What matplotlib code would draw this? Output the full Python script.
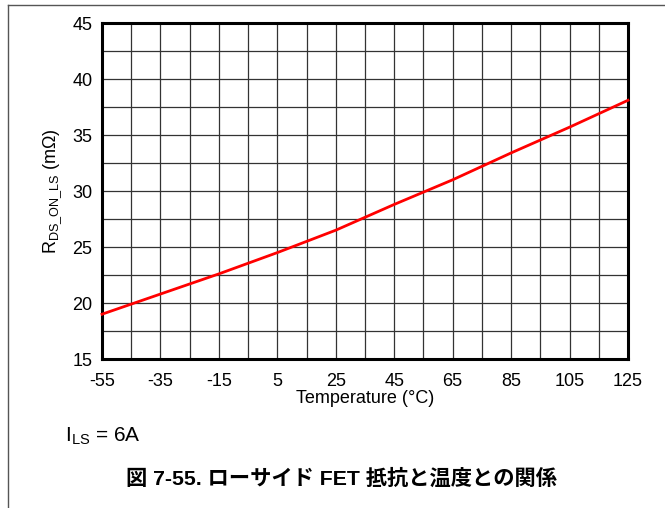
import matplotlib
matplotlib.use("Agg")
import matplotlib.pyplot as plt
from matplotlib.lines import Line2D
import numpy as np

temperature = [-55, -35, -15, 5, 25, 45, 65, 85, 105, 125]
rds_on_ls = [19.0, 20.8, 22.6, 24.5, 26.5, 28.8, 31.0, 33.4, 35.7, 38.1]
x_ticks = [-55, -35, -15, 5, 25, 45, 65, 85, 105, 125]
y_ticks = [15, 20, 25, 30, 35, 40, 45]

plt.rcParams['font.family'] = ['Liberation Sans', 'DejaVu Sans']
plt.rcParams['axes.unicode_minus'] = False

fig = plt.figure(figsize=(6.65, 5.08), dpi=100)
ax = fig.add_axes([102/665, 1-359/508, (628-102)/665, (359-23)/508])

ax.plot(temperature, rds_on_ls, color='#ff0000', lw=2.0, zorder=3, clip_on=False)
ax.set_xlim(-55, 125)
ax.set_ylim(15, 45)
ax.set_xticks(x_ticks)
ax.set_yticks(y_ticks)
ax.set_xticks(np.arange(-45, 125, 20), minor=True)
ax.set_yticks(np.arange(17.5, 45, 5), minor=True)
ax.grid(True, which='both', color='#333333', lw=0.9)
ax.tick_params(which='both', length=0)
ax.tick_params(axis='x', pad=10, labelsize=13)
ax.tick_params(axis='y', pad=7, labelsize=13)
for s in ax.spines.values():
    s.set_linewidth(2.2)
    s.set_color('black')
ax.set_xlabel('Temperature (°C)', fontsize=13, labelpad=0)
ax.set_ylabel('R$_{\\mathregular{DS\\_ON\\_LS}}$ (mΩ)', fontsize=13, labelpad=6)

fig.text(65/665, 1-436/508, 'I$_{\\mathregular{LS}}$ = 6A', fontsize=15, va='center', ha='left')
fig.text(342/665, 1-479/508, '図 7-55. ローサイド FET 抵抗と温度との関係', fontsize=15.3,
         fontweight='bold', ha='center', va='center',
         family=['Liberation Sans', 'Noto Sans CJK JP', 'DejaVu Sans'])

fig.add_artist(Line2D([8/665, 1], [1-5/508, 1-5/508], color='#555555', lw=1, transform=fig.transFigure))
fig.add_artist(Line2D([8/665, 8/665], [0, 1-5/508], color='#555555', lw=1, transform=fig.transFigure))

fig.savefig('out.png', dpi=100)
